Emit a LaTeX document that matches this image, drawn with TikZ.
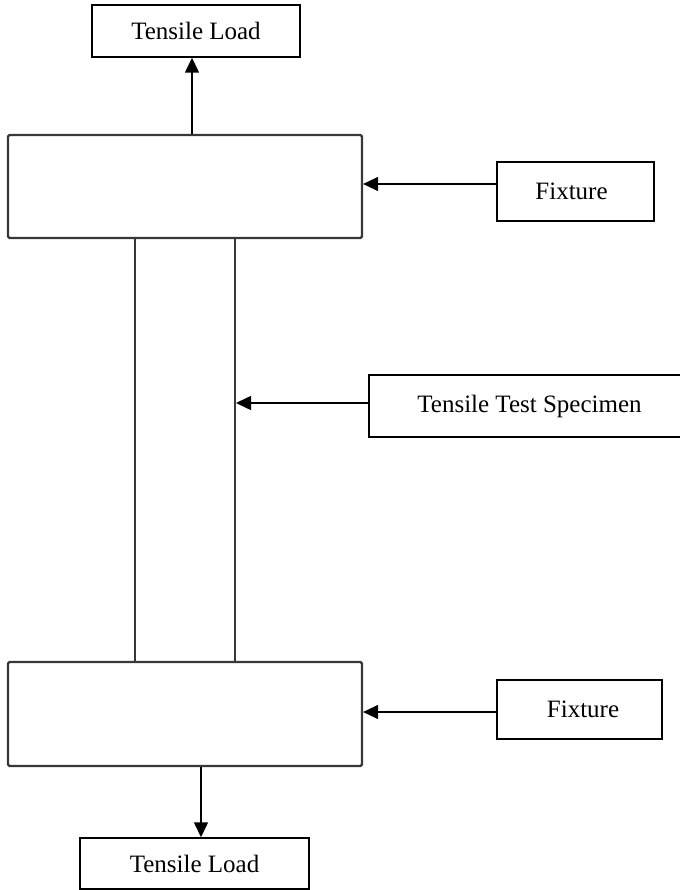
\documentclass[tikz,border=0pt]{standalone}
\usepackage{fontspec}
\setmainfont{Liberation Serif}
\usetikzlibrary{arrows.meta}
\begin{document}
\begin{tikzpicture}[x=1pt,y=-1pt,
  labelbox/.style={draw=black, line width=1.5pt, rectangle, inner sep=0pt, font=\fontsize{25}{30}\selectfont},
  fixturebox/.style={draw=black!78, line width=2.2pt, rectangle, rounded corners=1.5pt, inner sep=0pt},
  specbox/.style={draw=black!78, line width=2pt, rectangle, inner sep=0pt},
  arr/.style={draw=black, line width=1.5pt, -{Triangle[length=15pt,width=14pt]}}]
\useasboundingbox (0,0) rectangle (679,890);
\node[labelbox, minimum width=208pt, minimum height=52pt] (loadtop) at (196,31) {Tensile Load};
\node[specbox, minimum width=100pt, minimum height=424pt] (spec) at (185,450) {};
\node[fixturebox, fill=white, minimum width=354pt, minimum height=103pt] (fixtop) at (185,186.5) {};
\node[fixturebox, fill=white, minimum width=354pt, minimum height=104pt] (fixbot) at (185,714) {};
\node[labelbox, minimum width=157pt, minimum height=59pt] (fixlabtop) at (575.5,191.5) {};
\node[font=\fontsize{25}{30}\selectfont] (fixtxttop) at (571.5,191.5) {Fixture};
\node[labelbox, minimum width=341pt, minimum height=62pt] (speclab) at (539.5,406) {};
\node[font=\fontsize{25}{30}\selectfont] (spectxt) at (529.5,406) {Tensile Test Specimen};
\node[labelbox, minimum width=165pt, minimum height=59pt] (fixlabbot) at (579.5,709.5) {};
\node[font=\fontsize{25}{30}\selectfont] (fixtxtbot) at (583,709.5) {Fixture};
\node[labelbox, minimum width=229pt, minimum height=51pt] (loadbot) at (194.5,863.5) {Tensile Load};
\coordinate (ytop) at (0,184);
\coordinate (yspec) at (0,403);
\coordinate (ybot) at (0,712);
\coordinate (xtop) at (192,0);
\coordinate (xbot) at (201,0);
\draw[arr] (fixtop.north -| xtop) -- (loadtop.south -| xtop);
\draw[arr] (fixbot.south -| xbot) -- (loadbot.north -| xbot);
\draw[arr] (fixlabtop.west |- ytop) -- (fixtop.east |- ytop);
\draw[arr] (speclab.west |- yspec) -- (spec.east |- yspec);
\draw[arr] (fixlabbot.west |- ybot) -- (fixbot.east |- ybot);
\end{tikzpicture}
\end{document}
